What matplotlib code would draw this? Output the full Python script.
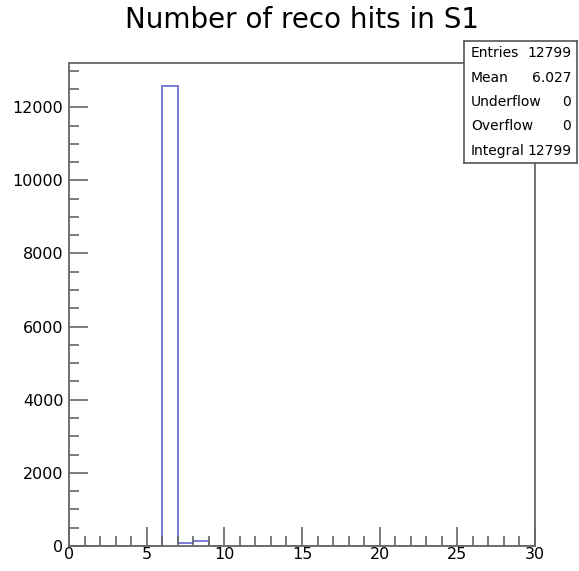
import matplotlib.pyplot as plt
import numpy as np
from matplotlib.ticker import MultipleLocator

plt.rcParams["font.family"] = ["DejaVu Sans"]

# histogram contents: 30 bins of width 1 from 0 to 30
bin_edges = np.arange(0, 31, 1)
bin_counts = np.zeros(30)
bin_counts[6] = 12581
bin_counts[7] = 90
bin_counts[8] = 128

title = "Number of reco hits in S1"
stats_labels = ["Entries", "Mean", "Underflow", "Overflow", "Integral"]
stats_values = ["12799", "6.027", "0", "0", "12799"]

W, H = 579, 571
fig = plt.figure(figsize=(W / 100, H / 100), dpi=100)
left, right, top, bottom = 69, 535, 63, 546
ax = fig.add_axes([left / W, 1 - bottom / H, (right - left) / W, (bottom - top) / H])

ax.stairs(bin_counts, bin_edges, color="#7b7bd8", linewidth=1.4)

ax.set_xlim(0, 30)
ax.set_ylim(0, 1.05 * bin_counts.max())

ax.xaxis.set_major_locator(MultipleLocator(5))
ax.xaxis.set_minor_locator(MultipleLocator(1))
ax.yaxis.set_major_locator(MultipleLocator(2000))
ax.yaxis.set_minor_locator(MultipleLocator(500))
ax.tick_params(which="both", direction="in", top=False, right=False,
               color="#666666", labelsize=11.5, labelcolor="black", width=1.2)
ax.tick_params(which="major", length=14, pad=4)
ax.tick_params(which="minor", length=7)
ax.tick_params(axis="x", pad=1)
for s in ax.spines.values():
    s.set_color("#666666")
    s.set_linewidth(1.3)

fig.text(302 / W, 1 - 20 / H, title, ha="center", va="center", fontsize=20)

# stats box
bx0, bx1, by0, by1 = 464, 577, 41, 163
box = fig.add_axes([bx0 / W, 1 - by1 / H, (bx1 - bx0) / W, (by1 - by0) / H])
box.set_xticks([])
box.set_yticks([])
box.set_xlim(0, 1)
box.set_ylim(0, 1)
for s in box.spines.values():
    s.set_color("#555555")
    s.set_linewidth(1.2)
n = len(stats_labels)
for i, (lab, val) in enumerate(zip(stats_labels, stats_values)):
    y = 1 - (i + 0.5) / n
    box.text(0.06, y, lab, ha="left", va="center", fontsize=10)
    box.text(0.95, y, val, ha="right", va="center", fontsize=10)

fig.savefig("out.png", dpi=100)
